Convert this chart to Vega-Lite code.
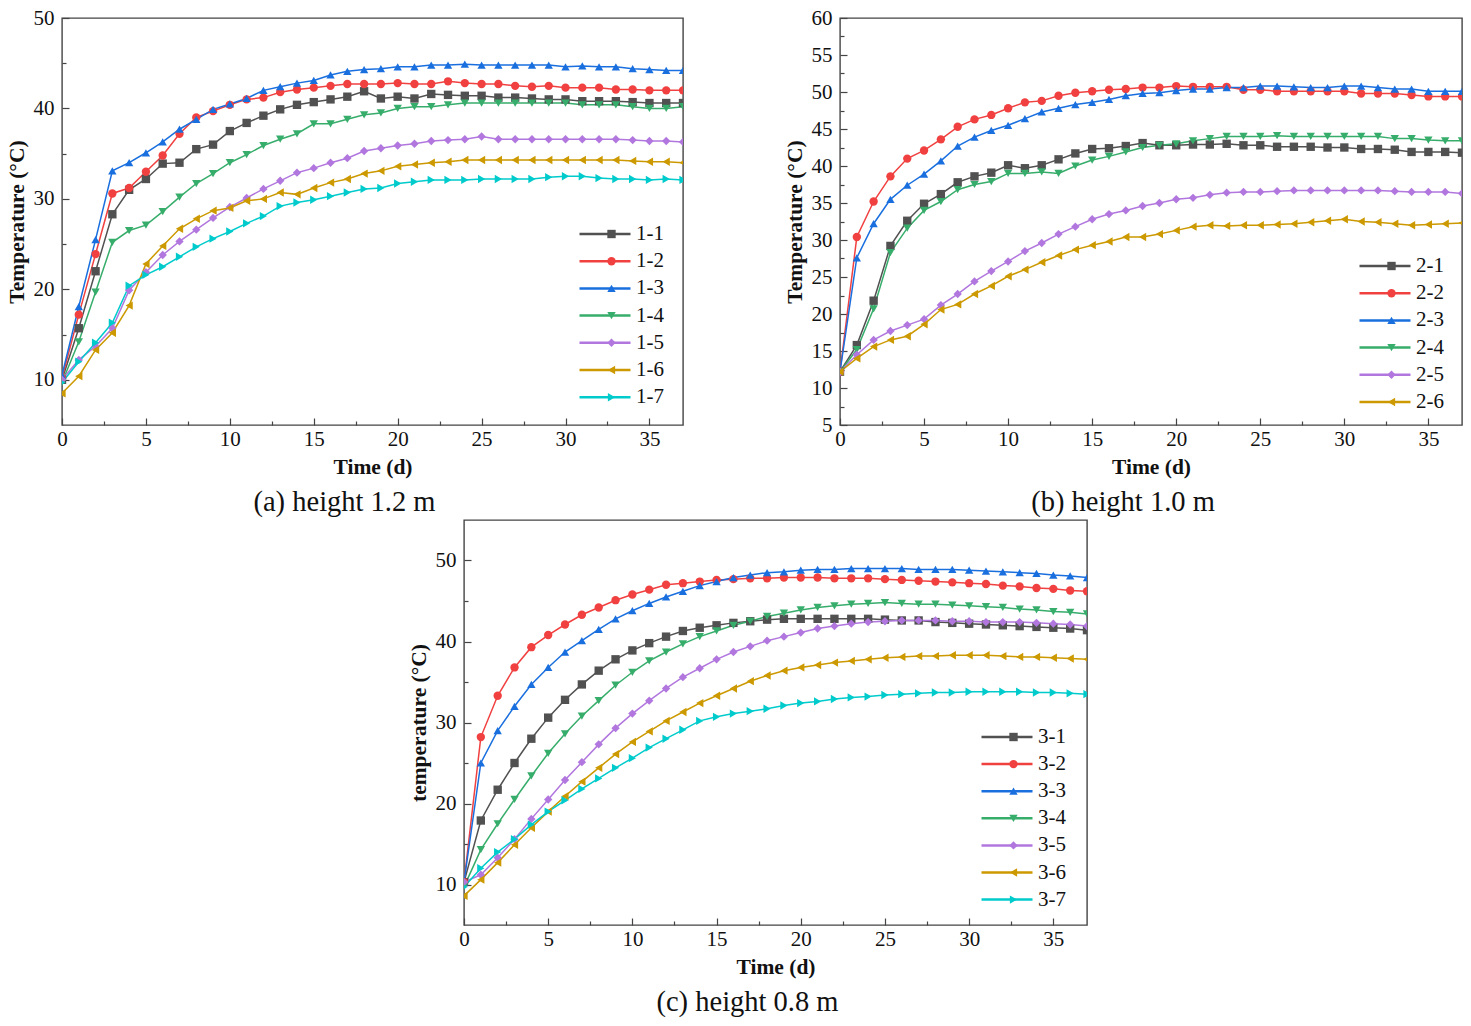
{
  "$schema": "https://vega.github.io/schema/vega-lite/v6.json",
  "background": "white",
  "padding": {"left": 5, "top": 6, "right": 0, "bottom": 0},
  "config": {
    "font": "Liberation Serif",
    "view": {"stroke": "#444444", "strokeWidth": 1.4},
    "axis": {
      "grid": false,
      "domain": false,
      "labelFont": "Liberation Serif",
      "labelFontSize": 21,
      "labelColor": "#111111",
      "labelFlush": false,
      "labelOverlap": false,
      "titleFont": "Liberation Serif",
      "titleFontSize": 21.5,
      "titleFontWeight": "bold",
      "titleColor": "#111111",
      "titlePadding": 5,
      "tickColor": "#444444",
      "tickWidth": 1.2
    },
    "axisX": {"labelPadding": 10, "titlePadding": 7},
    "axisY": {"labelPadding": 15},
    "title": {"font": "Liberation Serif", "fontSize": 28.5, "fontWeight": "normal", "color": "#111111"}
  },
  "datasets": {
    "a": [
      {"s":"1-1","d":0,"t":10.0},{"s":"1-1","d":1,"t":15.7},{"s":"1-1","d":2,"t":22.0},{"s":"1-1","d":3,"t":28.3},{"s":"1-1","d":4,"t":31.0},{"s":"1-1","d":5,"t":32.2},{"s":"1-1","d":6,"t":33.9},{"s":"1-1","d":7,"t":34.0},{"s":"1-1","d":8,"t":35.5},{"s":"1-1","d":9,"t":36.0},{"s":"1-1","d":10,"t":37.5},{"s":"1-1","d":11,"t":38.4},{"s":"1-1","d":12,"t":39.2},{"s":"1-1","d":13,"t":39.9},{"s":"1-1","d":14,"t":40.4},{"s":"1-1","d":15,"t":40.7},{"s":"1-1","d":16,"t":41.0},{"s":"1-1","d":17,"t":41.3},{"s":"1-1","d":18,"t":41.9},{"s":"1-1","d":19,"t":41.1},{"s":"1-1","d":20,"t":41.3},{"s":"1-1","d":21,"t":41.1},{"s":"1-1","d":22,"t":41.6},{"s":"1-1","d":23,"t":41.5},{"s":"1-1","d":24,"t":41.4},{"s":"1-1","d":25,"t":41.4},{"s":"1-1","d":26,"t":41.2},{"s":"1-1","d":27,"t":41.2},{"s":"1-1","d":28,"t":41.1},{"s":"1-1","d":29,"t":41.0},{"s":"1-1","d":30,"t":41.0},{"s":"1-1","d":31,"t":40.8},{"s":"1-1","d":32,"t":40.8},{"s":"1-1","d":33,"t":40.8},{"s":"1-1","d":34,"t":40.7},{"s":"1-1","d":35,"t":40.6},{"s":"1-1","d":36,"t":40.6},{"s":"1-1","d":37,"t":40.6},
      {"s":"1-2","d":0,"t":10.2},{"s":"1-2","d":1,"t":17.2},{"s":"1-2","d":2,"t":23.9},{"s":"1-2","d":3,"t":30.6},{"s":"1-2","d":4,"t":31.2},{"s":"1-2","d":5,"t":33.0},{"s":"1-2","d":6,"t":34.8},{"s":"1-2","d":7,"t":37.2},{"s":"1-2","d":8,"t":39.0},{"s":"1-2","d":9,"t":39.7},{"s":"1-2","d":10,"t":40.4},{"s":"1-2","d":11,"t":41.0},{"s":"1-2","d":12,"t":41.2},{"s":"1-2","d":13,"t":41.8},{"s":"1-2","d":14,"t":42.1},{"s":"1-2","d":15,"t":42.3},{"s":"1-2","d":16,"t":42.5},{"s":"1-2","d":17,"t":42.7},{"s":"1-2","d":18,"t":42.7},{"s":"1-2","d":19,"t":42.7},{"s":"1-2","d":20,"t":42.8},{"s":"1-2","d":21,"t":42.7},{"s":"1-2","d":22,"t":42.7},{"s":"1-2","d":23,"t":43.0},{"s":"1-2","d":24,"t":42.8},{"s":"1-2","d":25,"t":42.7},{"s":"1-2","d":26,"t":42.7},{"s":"1-2","d":27,"t":42.5},{"s":"1-2","d":28,"t":42.4},{"s":"1-2","d":29,"t":42.5},{"s":"1-2","d":30,"t":42.3},{"s":"1-2","d":31,"t":42.3},{"s":"1-2","d":32,"t":42.3},{"s":"1-2","d":33,"t":42.1},{"s":"1-2","d":34,"t":42.1},{"s":"1-2","d":35,"t":42.0},{"s":"1-2","d":36,"t":42.0},{"s":"1-2","d":37,"t":42.0},
      {"s":"1-3","d":0,"t":10.5},{"s":"1-3","d":1,"t":18.1},{"s":"1-3","d":2,"t":25.5},{"s":"1-3","d":3,"t":33.1},{"s":"1-3","d":4,"t":34.0},{"s":"1-3","d":5,"t":35.1},{"s":"1-3","d":6,"t":36.3},{"s":"1-3","d":7,"t":37.7},{"s":"1-3","d":8,"t":38.8},{"s":"1-3","d":9,"t":39.9},{"s":"1-3","d":10,"t":40.5},{"s":"1-3","d":11,"t":41.1},{"s":"1-3","d":12,"t":42.0},{"s":"1-3","d":13,"t":42.4},{"s":"1-3","d":14,"t":42.8},{"s":"1-3","d":15,"t":43.1},{"s":"1-3","d":16,"t":43.7},{"s":"1-3","d":17,"t":44.1},{"s":"1-3","d":18,"t":44.3},{"s":"1-3","d":19,"t":44.4},{"s":"1-3","d":20,"t":44.6},{"s":"1-3","d":21,"t":44.6},{"s":"1-3","d":22,"t":44.8},{"s":"1-3","d":23,"t":44.8},{"s":"1-3","d":24,"t":44.9},{"s":"1-3","d":25,"t":44.8},{"s":"1-3","d":26,"t":44.8},{"s":"1-3","d":27,"t":44.8},{"s":"1-3","d":28,"t":44.8},{"s":"1-3","d":29,"t":44.8},{"s":"1-3","d":30,"t":44.6},{"s":"1-3","d":31,"t":44.7},{"s":"1-3","d":32,"t":44.6},{"s":"1-3","d":33,"t":44.6},{"s":"1-3","d":34,"t":44.4},{"s":"1-3","d":35,"t":44.3},{"s":"1-3","d":36,"t":44.2},{"s":"1-3","d":37,"t":44.2},
      {"s":"1-4","d":0,"t":9.7},{"s":"1-4","d":1,"t":14.2},{"s":"1-4","d":2,"t":19.7},{"s":"1-4","d":3,"t":25.2},{"s":"1-4","d":4,"t":26.5},{"s":"1-4","d":5,"t":27.1},{"s":"1-4","d":6,"t":28.6},{"s":"1-4","d":7,"t":30.2},{"s":"1-4","d":8,"t":31.7},{"s":"1-4","d":9,"t":32.8},{"s":"1-4","d":10,"t":34.0},{"s":"1-4","d":11,"t":34.9},{"s":"1-4","d":12,"t":35.9},{"s":"1-4","d":13,"t":36.6},{"s":"1-4","d":14,"t":37.2},{"s":"1-4","d":15,"t":38.3},{"s":"1-4","d":16,"t":38.3},{"s":"1-4","d":17,"t":38.8},{"s":"1-4","d":18,"t":39.3},{"s":"1-4","d":19,"t":39.5},{"s":"1-4","d":20,"t":40.0},{"s":"1-4","d":21,"t":40.2},{"s":"1-4","d":22,"t":40.2},{"s":"1-4","d":23,"t":40.4},{"s":"1-4","d":24,"t":40.6},{"s":"1-4","d":25,"t":40.6},{"s":"1-4","d":26,"t":40.6},{"s":"1-4","d":27,"t":40.6},{"s":"1-4","d":28,"t":40.6},{"s":"1-4","d":29,"t":40.6},{"s":"1-4","d":30,"t":40.6},{"s":"1-4","d":31,"t":40.4},{"s":"1-4","d":32,"t":40.4},{"s":"1-4","d":33,"t":40.4},{"s":"1-4","d":34,"t":40.2},{"s":"1-4","d":35,"t":40.0},{"s":"1-4","d":36,"t":40.0},{"s":"1-4","d":37,"t":40.2},
      {"s":"1-5","d":0,"t":10.0},{"s":"1-5","d":1,"t":12.2},{"s":"1-5","d":2,"t":13.7},{"s":"1-5","d":3,"t":15.7},{"s":"1-5","d":4,"t":19.9},{"s":"1-5","d":5,"t":21.9},{"s":"1-5","d":6,"t":23.8},{"s":"1-5","d":7,"t":25.3},{"s":"1-5","d":8,"t":26.6},{"s":"1-5","d":9,"t":27.9},{"s":"1-5","d":10,"t":29.1},{"s":"1-5","d":11,"t":30.1},{"s":"1-5","d":12,"t":31.1},{"s":"1-5","d":13,"t":32.0},{"s":"1-5","d":14,"t":32.9},{"s":"1-5","d":15,"t":33.4},{"s":"1-5","d":16,"t":34.0},{"s":"1-5","d":17,"t":34.5},{"s":"1-5","d":18,"t":35.3},{"s":"1-5","d":19,"t":35.6},{"s":"1-5","d":20,"t":35.9},{"s":"1-5","d":21,"t":36.1},{"s":"1-5","d":22,"t":36.4},{"s":"1-5","d":23,"t":36.5},{"s":"1-5","d":24,"t":36.6},{"s":"1-5","d":25,"t":36.9},{"s":"1-5","d":26,"t":36.6},{"s":"1-5","d":27,"t":36.6},{"s":"1-5","d":28,"t":36.6},{"s":"1-5","d":29,"t":36.6},{"s":"1-5","d":30,"t":36.6},{"s":"1-5","d":31,"t":36.6},{"s":"1-5","d":32,"t":36.6},{"s":"1-5","d":33,"t":36.6},{"s":"1-5","d":34,"t":36.5},{"s":"1-5","d":35,"t":36.4},{"s":"1-5","d":36,"t":36.4},{"s":"1-5","d":37,"t":36.3},
      {"s":"1-6","d":0,"t":8.5},{"s":"1-6","d":1,"t":10.4},{"s":"1-6","d":2,"t":13.3},{"s":"1-6","d":3,"t":15.2},{"s":"1-6","d":4,"t":18.2},{"s":"1-6","d":5,"t":22.8},{"s":"1-6","d":6,"t":24.8},{"s":"1-6","d":7,"t":26.7},{"s":"1-6","d":8,"t":27.8},{"s":"1-6","d":9,"t":28.7},{"s":"1-6","d":10,"t":29.0},{"s":"1-6","d":11,"t":29.8},{"s":"1-6","d":12,"t":30.0},{"s":"1-6","d":13,"t":30.7},{"s":"1-6","d":14,"t":30.5},{"s":"1-6","d":15,"t":31.2},{"s":"1-6","d":16,"t":31.8},{"s":"1-6","d":17,"t":32.2},{"s":"1-6","d":18,"t":32.8},{"s":"1-6","d":19,"t":33.1},{"s":"1-6","d":20,"t":33.6},{"s":"1-6","d":21,"t":33.8},{"s":"1-6","d":22,"t":34.0},{"s":"1-6","d":23,"t":34.1},{"s":"1-6","d":24,"t":34.3},{"s":"1-6","d":25,"t":34.3},{"s":"1-6","d":26,"t":34.3},{"s":"1-6","d":27,"t":34.3},{"s":"1-6","d":28,"t":34.3},{"s":"1-6","d":29,"t":34.3},{"s":"1-6","d":30,"t":34.3},{"s":"1-6","d":31,"t":34.3},{"s":"1-6","d":32,"t":34.3},{"s":"1-6","d":33,"t":34.3},{"s":"1-6","d":34,"t":34.2},{"s":"1-6","d":35,"t":34.1},{"s":"1-6","d":36,"t":34.1},{"s":"1-6","d":37,"t":34.0},
      {"s":"1-7","d":0,"t":9.7},{"s":"1-7","d":1,"t":12.0},{"s":"1-7","d":2,"t":14.1},{"s":"1-7","d":3,"t":16.3},{"s":"1-7","d":4,"t":20.4},{"s":"1-7","d":5,"t":21.6},{"s":"1-7","d":6,"t":22.5},{"s":"1-7","d":7,"t":23.6},{"s":"1-7","d":8,"t":24.7},{"s":"1-7","d":9,"t":25.6},{"s":"1-7","d":10,"t":26.4},{"s":"1-7","d":11,"t":27.3},{"s":"1-7","d":12,"t":28.1},{"s":"1-7","d":13,"t":29.2},{"s":"1-7","d":14,"t":29.6},{"s":"1-7","d":15,"t":29.9},{"s":"1-7","d":16,"t":30.3},{"s":"1-7","d":17,"t":30.7},{"s":"1-7","d":18,"t":31.1},{"s":"1-7","d":19,"t":31.2},{"s":"1-7","d":20,"t":31.7},{"s":"1-7","d":21,"t":31.9},{"s":"1-7","d":22,"t":32.1},{"s":"1-7","d":23,"t":32.1},{"s":"1-7","d":24,"t":32.1},{"s":"1-7","d":25,"t":32.2},{"s":"1-7","d":26,"t":32.2},{"s":"1-7","d":27,"t":32.2},{"s":"1-7","d":28,"t":32.2},{"s":"1-7","d":29,"t":32.4},{"s":"1-7","d":30,"t":32.5},{"s":"1-7","d":31,"t":32.5},{"s":"1-7","d":32,"t":32.3},{"s":"1-7","d":33,"t":32.2},{"s":"1-7","d":34,"t":32.2},{"s":"1-7","d":35,"t":32.1},{"s":"1-7","d":36,"t":32.2},{"s":"1-7","d":37,"t":32.1}
    ],
    "b": [
      {"s":"2-1","d":0,"t":12.2},{"s":"2-1","d":1,"t":15.8},{"s":"2-1","d":2,"t":21.8},{"s":"2-1","d":3,"t":29.2},{"s":"2-1","d":4,"t":32.6},{"s":"2-1","d":5,"t":34.9},{"s":"2-1","d":6,"t":36.2},{"s":"2-1","d":7,"t":37.8},{"s":"2-1","d":8,"t":38.6},{"s":"2-1","d":9,"t":39.1},{"s":"2-1","d":10,"t":40.1},{"s":"2-1","d":11,"t":39.7},{"s":"2-1","d":12,"t":40.1},{"s":"2-1","d":13,"t":40.9},{"s":"2-1","d":14,"t":41.7},{"s":"2-1","d":15,"t":42.3},{"s":"2-1","d":16,"t":42.4},{"s":"2-1","d":17,"t":42.7},{"s":"2-1","d":18,"t":43.1},{"s":"2-1","d":19,"t":42.8},{"s":"2-1","d":20,"t":42.8},{"s":"2-1","d":21,"t":42.9},{"s":"2-1","d":22,"t":42.9},{"s":"2-1","d":23,"t":43.0},{"s":"2-1","d":24,"t":42.8},{"s":"2-1","d":25,"t":42.8},{"s":"2-1","d":26,"t":42.6},{"s":"2-1","d":27,"t":42.6},{"s":"2-1","d":28,"t":42.6},{"s":"2-1","d":29,"t":42.5},{"s":"2-1","d":30,"t":42.5},{"s":"2-1","d":31,"t":42.3},{"s":"2-1","d":32,"t":42.3},{"s":"2-1","d":33,"t":42.2},{"s":"2-1","d":34,"t":41.9},{"s":"2-1","d":35,"t":41.9},{"s":"2-1","d":36,"t":41.9},{"s":"2-1","d":37,"t":41.8},
      {"s":"2-2","d":0,"t":12.2},{"s":"2-2","d":1,"t":30.4},{"s":"2-2","d":2,"t":35.2},{"s":"2-2","d":3,"t":38.6},{"s":"2-2","d":4,"t":41.0},{"s":"2-2","d":5,"t":42.1},{"s":"2-2","d":6,"t":43.6},{"s":"2-2","d":7,"t":45.3},{"s":"2-2","d":8,"t":46.3},{"s":"2-2","d":9,"t":46.9},{"s":"2-2","d":10,"t":47.8},{"s":"2-2","d":11,"t":48.6},{"s":"2-2","d":12,"t":48.8},{"s":"2-2","d":13,"t":49.5},{"s":"2-2","d":14,"t":49.9},{"s":"2-2","d":15,"t":50.1},{"s":"2-2","d":16,"t":50.3},{"s":"2-2","d":17,"t":50.4},{"s":"2-2","d":18,"t":50.6},{"s":"2-2","d":19,"t":50.6},{"s":"2-2","d":20,"t":50.8},{"s":"2-2","d":21,"t":50.7},{"s":"2-2","d":22,"t":50.7},{"s":"2-2","d":23,"t":50.7},{"s":"2-2","d":24,"t":50.3},{"s":"2-2","d":25,"t":50.3},{"s":"2-2","d":26,"t":50.1},{"s":"2-2","d":27,"t":50.1},{"s":"2-2","d":28,"t":50.1},{"s":"2-2","d":29,"t":50.1},{"s":"2-2","d":30,"t":50.1},{"s":"2-2","d":31,"t":49.8},{"s":"2-2","d":32,"t":49.8},{"s":"2-2","d":33,"t":49.8},{"s":"2-2","d":34,"t":49.6},{"s":"2-2","d":35,"t":49.4},{"s":"2-2","d":36,"t":49.4},{"s":"2-2","d":37,"t":49.4},
      {"s":"2-3","d":0,"t":12.2},{"s":"2-3","d":1,"t":27.6},{"s":"2-3","d":2,"t":32.2},{"s":"2-3","d":3,"t":35.5},{"s":"2-3","d":4,"t":37.4},{"s":"2-3","d":5,"t":38.9},{"s":"2-3","d":6,"t":40.7},{"s":"2-3","d":7,"t":42.7},{"s":"2-3","d":8,"t":43.9},{"s":"2-3","d":9,"t":44.8},{"s":"2-3","d":10,"t":45.5},{"s":"2-3","d":11,"t":46.4},{"s":"2-3","d":12,"t":47.3},{"s":"2-3","d":13,"t":47.8},{"s":"2-3","d":14,"t":48.3},{"s":"2-3","d":15,"t":48.6},{"s":"2-3","d":16,"t":49.0},{"s":"2-3","d":17,"t":49.5},{"s":"2-3","d":18,"t":49.8},{"s":"2-3","d":19,"t":49.9},{"s":"2-3","d":20,"t":50.2},{"s":"2-3","d":21,"t":50.4},{"s":"2-3","d":22,"t":50.4},{"s":"2-3","d":23,"t":50.6},{"s":"2-3","d":24,"t":50.6},{"s":"2-3","d":25,"t":50.8},{"s":"2-3","d":26,"t":50.8},{"s":"2-3","d":27,"t":50.7},{"s":"2-3","d":28,"t":50.6},{"s":"2-3","d":29,"t":50.6},{"s":"2-3","d":30,"t":50.8},{"s":"2-3","d":31,"t":50.8},{"s":"2-3","d":32,"t":50.6},{"s":"2-3","d":33,"t":50.4},{"s":"2-3","d":34,"t":50.4},{"s":"2-3","d":35,"t":50.1},{"s":"2-3","d":36,"t":50.1},{"s":"2-3","d":37,"t":50.1},
      {"s":"2-4","d":0,"t":12.2},{"s":"2-4","d":1,"t":15.2},{"s":"2-4","d":2,"t":20.7},{"s":"2-4","d":3,"t":28.3},{"s":"2-4","d":4,"t":31.6},{"s":"2-4","d":5,"t":34.0},{"s":"2-4","d":6,"t":35.2},{"s":"2-4","d":7,"t":36.8},{"s":"2-4","d":8,"t":37.5},{"s":"2-4","d":9,"t":37.9},{"s":"2-4","d":10,"t":39.0},{"s":"2-4","d":11,"t":39.0},{"s":"2-4","d":12,"t":39.2},{"s":"2-4","d":13,"t":39.0},{"s":"2-4","d":14,"t":40.0},{"s":"2-4","d":15,"t":40.8},{"s":"2-4","d":16,"t":41.3},{"s":"2-4","d":17,"t":41.9},{"s":"2-4","d":18,"t":42.5},{"s":"2-4","d":19,"t":42.8},{"s":"2-4","d":20,"t":43.0},{"s":"2-4","d":21,"t":43.4},{"s":"2-4","d":22,"t":43.7},{"s":"2-4","d":23,"t":44.0},{"s":"2-4","d":24,"t":44.0},{"s":"2-4","d":25,"t":44.0},{"s":"2-4","d":26,"t":44.1},{"s":"2-4","d":27,"t":44.0},{"s":"2-4","d":28,"t":44.0},{"s":"2-4","d":29,"t":44.0},{"s":"2-4","d":30,"t":44.0},{"s":"2-4","d":31,"t":44.0},{"s":"2-4","d":32,"t":44.0},{"s":"2-4","d":33,"t":43.7},{"s":"2-4","d":34,"t":43.7},{"s":"2-4","d":35,"t":43.5},{"s":"2-4","d":36,"t":43.4},{"s":"2-4","d":37,"t":43.4},
      {"s":"2-5","d":0,"t":12.2},{"s":"2-5","d":1,"t":14.5},{"s":"2-5","d":2,"t":16.5},{"s":"2-5","d":3,"t":17.7},{"s":"2-5","d":4,"t":18.5},{"s":"2-5","d":5,"t":19.3},{"s":"2-5","d":6,"t":21.2},{"s":"2-5","d":7,"t":22.7},{"s":"2-5","d":8,"t":24.4},{"s":"2-5","d":9,"t":25.8},{"s":"2-5","d":10,"t":27.1},{"s":"2-5","d":11,"t":28.5},{"s":"2-5","d":12,"t":29.6},{"s":"2-5","d":13,"t":30.8},{"s":"2-5","d":14,"t":31.8},{"s":"2-5","d":15,"t":32.8},{"s":"2-5","d":16,"t":33.5},{"s":"2-5","d":17,"t":34.0},{"s":"2-5","d":18,"t":34.6},{"s":"2-5","d":19,"t":35.0},{"s":"2-5","d":20,"t":35.5},{"s":"2-5","d":21,"t":35.7},{"s":"2-5","d":22,"t":36.1},{"s":"2-5","d":23,"t":36.4},{"s":"2-5","d":24,"t":36.5},{"s":"2-5","d":25,"t":36.5},{"s":"2-5","d":26,"t":36.6},{"s":"2-5","d":27,"t":36.7},{"s":"2-5","d":28,"t":36.7},{"s":"2-5","d":29,"t":36.7},{"s":"2-5","d":30,"t":36.7},{"s":"2-5","d":31,"t":36.7},{"s":"2-5","d":32,"t":36.7},{"s":"2-5","d":33,"t":36.6},{"s":"2-5","d":34,"t":36.5},{"s":"2-5","d":35,"t":36.5},{"s":"2-5","d":36,"t":36.5},{"s":"2-5","d":37,"t":36.3},
      {"s":"2-6","d":0,"t":12.2},{"s":"2-6","d":1,"t":14.0},{"s":"2-6","d":2,"t":15.6},{"s":"2-6","d":3,"t":16.5},{"s":"2-6","d":4,"t":17.0},{"s":"2-6","d":5,"t":18.6},{"s":"2-6","d":6,"t":20.6},{"s":"2-6","d":7,"t":21.3},{"s":"2-6","d":8,"t":22.7},{"s":"2-6","d":9,"t":23.8},{"s":"2-6","d":10,"t":25.1},{"s":"2-6","d":11,"t":26.0},{"s":"2-6","d":12,"t":27.0},{"s":"2-6","d":13,"t":27.9},{"s":"2-6","d":14,"t":28.7},{"s":"2-6","d":15,"t":29.3},{"s":"2-6","d":16,"t":29.8},{"s":"2-6","d":17,"t":30.4},{"s":"2-6","d":18,"t":30.4},{"s":"2-6","d":19,"t":30.8},{"s":"2-6","d":20,"t":31.3},{"s":"2-6","d":21,"t":31.8},{"s":"2-6","d":22,"t":32.0},{"s":"2-6","d":23,"t":31.9},{"s":"2-6","d":24,"t":32.0},{"s":"2-6","d":25,"t":32.0},{"s":"2-6","d":26,"t":32.1},{"s":"2-6","d":27,"t":32.2},{"s":"2-6","d":28,"t":32.4},{"s":"2-6","d":29,"t":32.6},{"s":"2-6","d":30,"t":32.8},{"s":"2-6","d":31,"t":32.5},{"s":"2-6","d":32,"t":32.4},{"s":"2-6","d":33,"t":32.2},{"s":"2-6","d":34,"t":32.0},{"s":"2-6","d":35,"t":32.1},{"s":"2-6","d":36,"t":32.2},{"s":"2-6","d":37,"t":32.3}
    ],
    "c": [
      {"s":"3-1","d":0,"t":10.3},{"s":"3-1","d":1,"t":17.9},{"s":"3-1","d":2,"t":21.7},{"s":"3-1","d":3,"t":25.0},{"s":"3-1","d":4,"t":28.0},{"s":"3-1","d":5,"t":30.6},{"s":"3-1","d":6,"t":32.8},{"s":"3-1","d":7,"t":34.7},{"s":"3-1","d":8,"t":36.4},{"s":"3-1","d":9,"t":37.8},{"s":"3-1","d":10,"t":38.9},{"s":"3-1","d":11,"t":39.8},{"s":"3-1","d":12,"t":40.6},{"s":"3-1","d":13,"t":41.3},{"s":"3-1","d":14,"t":41.7},{"s":"3-1","d":15,"t":42.0},{"s":"3-1","d":16,"t":42.3},{"s":"3-1","d":17,"t":42.5},{"s":"3-1","d":18,"t":42.7},{"s":"3-1","d":19,"t":42.8},{"s":"3-1","d":20,"t":42.8},{"s":"3-1","d":21,"t":42.8},{"s":"3-1","d":22,"t":42.8},{"s":"3-1","d":23,"t":42.8},{"s":"3-1","d":24,"t":42.8},{"s":"3-1","d":25,"t":42.7},{"s":"3-1","d":26,"t":42.6},{"s":"3-1","d":27,"t":42.6},{"s":"3-1","d":28,"t":42.4},{"s":"3-1","d":29,"t":42.3},{"s":"3-1","d":30,"t":42.2},{"s":"3-1","d":31,"t":42.1},{"s":"3-1","d":32,"t":42.0},{"s":"3-1","d":33,"t":41.9},{"s":"3-1","d":34,"t":41.8},{"s":"3-1","d":35,"t":41.7},{"s":"3-1","d":36,"t":41.6},{"s":"3-1","d":37,"t":41.4},
      {"s":"3-2","d":0,"t":10.3},{"s":"3-2","d":1,"t":28.2},{"s":"3-2","d":2,"t":33.3},{"s":"3-2","d":3,"t":36.8},{"s":"3-2","d":4,"t":39.3},{"s":"3-2","d":5,"t":40.8},{"s":"3-2","d":6,"t":42.1},{"s":"3-2","d":7,"t":43.3},{"s":"3-2","d":8,"t":44.2},{"s":"3-2","d":9,"t":45.1},{"s":"3-2","d":10,"t":45.8},{"s":"3-2","d":11,"t":46.4},{"s":"3-2","d":12,"t":47.0},{"s":"3-2","d":13,"t":47.2},{"s":"3-2","d":14,"t":47.4},{"s":"3-2","d":15,"t":47.6},{"s":"3-2","d":16,"t":47.7},{"s":"3-2","d":17,"t":47.8},{"s":"3-2","d":18,"t":47.8},{"s":"3-2","d":19,"t":47.9},{"s":"3-2","d":20,"t":47.9},{"s":"3-2","d":21,"t":47.9},{"s":"3-2","d":22,"t":47.8},{"s":"3-2","d":23,"t":47.8},{"s":"3-2","d":24,"t":47.8},{"s":"3-2","d":25,"t":47.7},{"s":"3-2","d":26,"t":47.6},{"s":"3-2","d":27,"t":47.5},{"s":"3-2","d":28,"t":47.4},{"s":"3-2","d":29,"t":47.3},{"s":"3-2","d":30,"t":47.2},{"s":"3-2","d":31,"t":47.1},{"s":"3-2","d":32,"t":46.9},{"s":"3-2","d":33,"t":46.8},{"s":"3-2","d":34,"t":46.6},{"s":"3-2","d":35,"t":46.5},{"s":"3-2","d":36,"t":46.3},{"s":"3-2","d":37,"t":46.2},
      {"s":"3-3","d":0,"t":10.3},{"s":"3-3","d":1,"t":25.0},{"s":"3-3","d":2,"t":29.0},{"s":"3-3","d":3,"t":32.0},{"s":"3-3","d":4,"t":34.7},{"s":"3-3","d":5,"t":36.8},{"s":"3-3","d":6,"t":38.7},{"s":"3-3","d":7,"t":40.1},{"s":"3-3","d":8,"t":41.5},{"s":"3-3","d":9,"t":42.8},{"s":"3-3","d":10,"t":43.8},{"s":"3-3","d":11,"t":44.7},{"s":"3-3","d":12,"t":45.5},{"s":"3-3","d":13,"t":46.2},{"s":"3-3","d":14,"t":46.9},{"s":"3-3","d":15,"t":47.4},{"s":"3-3","d":16,"t":47.9},{"s":"3-3","d":17,"t":48.2},{"s":"3-3","d":18,"t":48.5},{"s":"3-3","d":19,"t":48.6},{"s":"3-3","d":20,"t":48.8},{"s":"3-3","d":21,"t":48.9},{"s":"3-3","d":22,"t":48.9},{"s":"3-3","d":23,"t":49.0},{"s":"3-3","d":24,"t":49.0},{"s":"3-3","d":25,"t":49.0},{"s":"3-3","d":26,"t":49.0},{"s":"3-3","d":27,"t":48.9},{"s":"3-3","d":28,"t":48.9},{"s":"3-3","d":29,"t":48.9},{"s":"3-3","d":30,"t":48.8},{"s":"3-3","d":31,"t":48.7},{"s":"3-3","d":32,"t":48.6},{"s":"3-3","d":33,"t":48.5},{"s":"3-3","d":34,"t":48.4},{"s":"3-3","d":35,"t":48.2},{"s":"3-3","d":36,"t":48.1},{"s":"3-3","d":37,"t":47.9},
      {"s":"3-4","d":0,"t":9.7},{"s":"3-4","d":1,"t":14.3},{"s":"3-4","d":2,"t":17.5},{"s":"3-4","d":3,"t":20.5},{"s":"3-4","d":4,"t":23.4},{"s":"3-4","d":5,"t":26.2},{"s":"3-4","d":6,"t":28.6},{"s":"3-4","d":7,"t":30.8},{"s":"3-4","d":8,"t":32.7},{"s":"3-4","d":9,"t":34.6},{"s":"3-4","d":10,"t":36.2},{"s":"3-4","d":11,"t":37.6},{"s":"3-4","d":12,"t":38.7},{"s":"3-4","d":13,"t":39.7},{"s":"3-4","d":14,"t":40.6},{"s":"3-4","d":15,"t":41.3},{"s":"3-4","d":16,"t":42.0},{"s":"3-4","d":17,"t":42.5},{"s":"3-4","d":18,"t":43.1},{"s":"3-4","d":19,"t":43.5},{"s":"3-4","d":20,"t":43.9},{"s":"3-4","d":21,"t":44.2},{"s":"3-4","d":22,"t":44.4},{"s":"3-4","d":23,"t":44.6},{"s":"3-4","d":24,"t":44.7},{"s":"3-4","d":25,"t":44.8},{"s":"3-4","d":26,"t":44.7},{"s":"3-4","d":27,"t":44.6},{"s":"3-4","d":28,"t":44.6},{"s":"3-4","d":29,"t":44.5},{"s":"3-4","d":30,"t":44.4},{"s":"3-4","d":31,"t":44.3},{"s":"3-4","d":32,"t":44.2},{"s":"3-4","d":33,"t":44.0},{"s":"3-4","d":34,"t":43.9},{"s":"3-4","d":35,"t":43.7},{"s":"3-4","d":36,"t":43.6},{"s":"3-4","d":37,"t":43.4},
      {"s":"3-5","d":0,"t":10.3},{"s":"3-5","d":1,"t":11.2},{"s":"3-5","d":2,"t":13.3},{"s":"3-5","d":3,"t":15.6},{"s":"3-5","d":4,"t":18.1},{"s":"3-5","d":5,"t":20.5},{"s":"3-5","d":6,"t":22.9},{"s":"3-5","d":7,"t":25.1},{"s":"3-5","d":8,"t":27.3},{"s":"3-5","d":9,"t":29.3},{"s":"3-5","d":10,"t":31.1},{"s":"3-5","d":11,"t":32.7},{"s":"3-5","d":12,"t":34.2},{"s":"3-5","d":13,"t":35.6},{"s":"3-5","d":14,"t":36.7},{"s":"3-5","d":15,"t":37.8},{"s":"3-5","d":16,"t":38.7},{"s":"3-5","d":17,"t":39.4},{"s":"3-5","d":18,"t":40.1},{"s":"3-5","d":19,"t":40.6},{"s":"3-5","d":20,"t":41.1},{"s":"3-5","d":21,"t":41.6},{"s":"3-5","d":22,"t":41.9},{"s":"3-5","d":23,"t":42.2},{"s":"3-5","d":24,"t":42.4},{"s":"3-5","d":25,"t":42.5},{"s":"3-5","d":26,"t":42.6},{"s":"3-5","d":27,"t":42.6},{"s":"3-5","d":28,"t":42.6},{"s":"3-5","d":29,"t":42.5},{"s":"3-5","d":30,"t":42.5},{"s":"3-5","d":31,"t":42.4},{"s":"3-5","d":32,"t":42.4},{"s":"3-5","d":33,"t":42.4},{"s":"3-5","d":34,"t":42.3},{"s":"3-5","d":35,"t":42.2},{"s":"3-5","d":36,"t":42.1},{"s":"3-5","d":37,"t":41.9},
      {"s":"3-6","d":0,"t":8.6},{"s":"3-6","d":1,"t":10.6},{"s":"3-6","d":2,"t":12.7},{"s":"3-6","d":3,"t":14.9},{"s":"3-6","d":4,"t":17.0},{"s":"3-6","d":5,"t":19.0},{"s":"3-6","d":6,"t":20.9},{"s":"3-6","d":7,"t":22.7},{"s":"3-6","d":8,"t":24.4},{"s":"3-6","d":9,"t":26.1},{"s":"3-6","d":10,"t":27.6},{"s":"3-6","d":11,"t":28.9},{"s":"3-6","d":12,"t":30.2},{"s":"3-6","d":13,"t":31.3},{"s":"3-6","d":14,"t":32.4},{"s":"3-6","d":15,"t":33.3},{"s":"3-6","d":16,"t":34.2},{"s":"3-6","d":17,"t":35.1},{"s":"3-6","d":18,"t":35.8},{"s":"3-6","d":19,"t":36.4},{"s":"3-6","d":20,"t":36.8},{"s":"3-6","d":21,"t":37.1},{"s":"3-6","d":22,"t":37.4},{"s":"3-6","d":23,"t":37.6},{"s":"3-6","d":24,"t":37.8},{"s":"3-6","d":25,"t":38.0},{"s":"3-6","d":26,"t":38.1},{"s":"3-6","d":27,"t":38.2},{"s":"3-6","d":28,"t":38.2},{"s":"3-6","d":29,"t":38.3},{"s":"3-6","d":30,"t":38.3},{"s":"3-6","d":31,"t":38.3},{"s":"3-6","d":32,"t":38.2},{"s":"3-6","d":33,"t":38.1},{"s":"3-6","d":34,"t":38.1},{"s":"3-6","d":35,"t":38.0},{"s":"3-6","d":36,"t":37.9},{"s":"3-6","d":37,"t":37.8},
      {"s":"3-7","d":0,"t":9.7},{"s":"3-7","d":1,"t":12.0},{"s":"3-7","d":2,"t":14.0},{"s":"3-7","d":3,"t":15.6},{"s":"3-7","d":4,"t":17.4},{"s":"3-7","d":5,"t":19.0},{"s":"3-7","d":6,"t":20.4},{"s":"3-7","d":7,"t":21.8},{"s":"3-7","d":8,"t":23.1},{"s":"3-7","d":9,"t":24.4},{"s":"3-7","d":10,"t":25.6},{"s":"3-7","d":11,"t":26.9},{"s":"3-7","d":12,"t":28.0},{"s":"3-7","d":13,"t":29.1},{"s":"3-7","d":14,"t":30.2},{"s":"3-7","d":15,"t":30.7},{"s":"3-7","d":16,"t":31.1},{"s":"3-7","d":17,"t":31.4},{"s":"3-7","d":18,"t":31.7},{"s":"3-7","d":19,"t":32.1},{"s":"3-7","d":20,"t":32.4},{"s":"3-7","d":21,"t":32.6},{"s":"3-7","d":22,"t":32.9},{"s":"3-7","d":23,"t":33.1},{"s":"3-7","d":24,"t":33.2},{"s":"3-7","d":25,"t":33.4},{"s":"3-7","d":26,"t":33.5},{"s":"3-7","d":27,"t":33.6},{"s":"3-7","d":28,"t":33.7},{"s":"3-7","d":29,"t":33.7},{"s":"3-7","d":30,"t":33.8},{"s":"3-7","d":31,"t":33.8},{"s":"3-7","d":32,"t":33.8},{"s":"3-7","d":33,"t":33.8},{"s":"3-7","d":34,"t":33.7},{"s":"3-7","d":35,"t":33.7},{"s":"3-7","d":36,"t":33.6},{"s":"3-7","d":37,"t":33.5}
    ]
  },
  "spacing": 2,
  "resolve": {"scale": {"stroke": "independent", "fill": "independent", "shape": "independent"}},
  "vconcat": [
    {
      "spacing": 99,
      "resolve": {"scale": {"stroke": "independent", "fill": "independent", "shape": "independent"}},
      "hconcat": [
        {
          "width": 621,
          "height": 407,
          "data": {"name": "a"},
          "title": {"text": "(a) height 1.2 m", "orient": "bottom", "anchor": "middle", "frame": "bounds", "offset": 10},
          "resolve": {"axis": {"x": "independent", "y": "independent"}},
          "layer": [
            {
              "mark": {"type": "line", "strokeWidth": 1.5, "clip": true},
              "encoding": {
                "x": {"field": "d", "type": "quantitative", "scale": {"domain": [0, 37], "nice": false, "zero": false},
                  "axis": {"orient": "bottom", "title": "Time (d)", "values": [0, 5, 10, 15, 20, 25, 30, 35], "tickSize": -7}},
                "y": {"field": "t", "type": "quantitative", "scale": {"domain": [5, 50], "nice": false, "zero": false},
                  "axis": {"orient": "left", "title": "Temperature (°C)", "values": [10, 20, 30, 40, 50], "tickSize": -7}},
                "stroke": {"field": "s", "type": "nominal",
                  "scale": {"domain": ["1-1", "1-2", "1-3", "1-4", "1-5", "1-6", "1-7"], "range": ["#515151", "#F14040", "#1A6FDF", "#37AD6B", "#B177DE", "#CC9900", "#00CBCC"]},
                  "legend": {"orient": "none", "legendX": 516, "legendY": 206, "title": null, "symbolType": "stroke", "symbolSize": 2601, "symbolStrokeWidth": 2.5, "clipHeight": 20, "rowPadding": 6.2, "labelFontSize": 21, "labelFont": "Liberation Serif", "labelColor": "#111111", "labelOffset": 4, "padding": 0}}
              }
            },
            {
              "mark": {"type": "point", "filled": true, "size": 70, "opacity": 1, "strokeWidth": 0, "clip": true},
              "encoding": {
                "x": {"field": "d", "type": "quantitative",
                  "axis": {"orient": "bottom", "title": null, "labels": false, "values": [2.5, 7.5, 12.5, 17.5, 22.5, 27.5, 32.5], "tickSize": -4}},
                "y": {"field": "t", "type": "quantitative",
                  "axis": {"orient": "left", "title": null, "labels": false, "values": [15, 25, 35, 45], "tickSize": -4}},
                "fill": {"field": "s", "type": "nominal",
                  "scale": {"range": ["#515151", "#F14040", "#1A6FDF", "#37AD6B", "#B177DE", "#CC9900", "#00CBCC"]},
                  "legend": {"orient": "none", "legendX": 539, "legendY": 206, "title": null, "symbolSize": 70, "symbolStrokeWidth": 0, "clipHeight": 20, "rowPadding": 6.2, "labelFontSize": 21, "labelExpr": "''", "padding": 0}},
                "shape": {"field": "s", "type": "nominal",
                  "scale": {"range": ["square", "circle", "triangle-up", "triangle-down", "diamond", "triangle-left", "triangle-right"]},
                  "legend": {"orient": "none", "legendX": 539, "legendY": 206, "title": null, "symbolSize": 70, "symbolStrokeWidth": 0, "clipHeight": 20, "rowPadding": 6.2, "labelFontSize": 21, "labelExpr": "''", "padding": 0}}
              }
            }
          ]
        },
        {
          "width": 622,
          "height": 407,
          "data": {"name": "b"},
          "title": {"text": "(b) height 1.0 m", "orient": "bottom", "anchor": "middle", "frame": "bounds", "offset": 10},
          "resolve": {"axis": {"x": "independent", "y": "independent"}},
          "layer": [
            {
              "mark": {"type": "line", "strokeWidth": 1.5, "clip": true},
              "encoding": {
                "x": {"field": "d", "type": "quantitative", "scale": {"domain": [0, 37], "nice": false, "zero": false},
                  "axis": {"orient": "bottom", "title": "Time (d)", "values": [0, 5, 10, 15, 20, 25, 30, 35], "tickSize": -7}},
                "y": {"field": "t", "type": "quantitative", "scale": {"domain": [5, 60], "nice": false, "zero": false},
                  "axis": {"orient": "left", "title": "Temperature (°C)", "values": [5, 10, 15, 20, 25, 30, 35, 40, 45, 50, 55, 60], "tickSize": -7}},
                "stroke": {"field": "s", "type": "nominal",
                  "scale": {"domain": ["2-1", "2-2", "2-3", "2-4", "2-5", "2-6"], "range": ["#515151", "#F14040", "#1A6FDF", "#37AD6B", "#B177DE", "#CC9900"]},
                  "legend": {"orient": "none", "legendX": 518, "legendY": 238, "title": null, "symbolType": "stroke", "symbolSize": 2601, "symbolStrokeWidth": 2.5, "clipHeight": 20, "rowPadding": 6.2, "labelFontSize": 21, "labelFont": "Liberation Serif", "labelColor": "#111111", "labelOffset": 4, "padding": 0}}
              }
            },
            {
              "mark": {"type": "point", "filled": true, "size": 70, "opacity": 1, "strokeWidth": 0, "clip": true},
              "encoding": {
                "x": {"field": "d", "type": "quantitative",
                  "axis": {"orient": "bottom", "title": null, "labels": false, "values": [2.5, 7.5, 12.5, 17.5, 22.5, 27.5, 32.5], "tickSize": -4}},
                "y": {"field": "t", "type": "quantitative",
                  "axis": {"orient": "left", "title": null, "labels": false, "values": [7.5, 12.5, 17.5, 22.5, 27.5, 32.5, 37.5, 42.5, 47.5, 52.5, 57.5], "tickSize": -4}},
                "fill": {"field": "s", "type": "nominal",
                  "scale": {"range": ["#515151", "#F14040", "#1A6FDF", "#37AD6B", "#B177DE", "#CC9900"]},
                  "legend": {"orient": "none", "legendX": 541, "legendY": 238, "title": null, "symbolSize": 70, "symbolStrokeWidth": 0, "clipHeight": 20, "rowPadding": 6.2, "labelFontSize": 21, "labelExpr": "''", "padding": 0}},
                "shape": {"field": "s", "type": "nominal",
                  "scale": {"range": ["square", "circle", "triangle-up", "triangle-down", "diamond", "triangle-left"]},
                  "legend": {"orient": "none", "legendX": 541, "legendY": 238, "title": null, "symbolSize": 70, "symbolStrokeWidth": 0, "clipHeight": 20, "rowPadding": 6.2, "labelFontSize": 21, "labelExpr": "''", "padding": 0}}
              }
            }
          ]
        }
      ]
    },
    {
      "spacing": 20,
      "resolve": {"scale": {"stroke": "independent", "fill": "independent", "shape": "independent"}},
      "hconcat": [
        {
          "width": 325,
          "height": 10,
          "data": {"values": []},
          "mark": "point",
          "view": {"stroke": null}
        },
        {
          "width": 623,
          "height": 405,
          "data": {"name": "c"},
          "title": {"text": "(c) height 0.8 m", "orient": "bottom", "anchor": "middle", "frame": "bounds", "offset": 10},
          "resolve": {"axis": {"x": "independent", "y": "independent"}},
          "layer": [
            {
              "mark": {"type": "line", "strokeWidth": 1.5, "clip": true},
              "encoding": {
                "x": {"field": "d", "type": "quantitative", "scale": {"domain": [0, 37], "nice": false, "zero": false},
                  "axis": {"orient": "bottom", "title": "Time (d)", "values": [0, 5, 10, 15, 20, 25, 30, 35], "tickSize": -7}},
                "y": {"field": "t", "type": "quantitative", "scale": {"domain": [5, 55], "nice": false, "zero": false},
                  "axis": {"orient": "left", "title": "temperature (°C)", "values": [10, 20, 30, 40, 50], "tickSize": -7}},
                "stroke": {"field": "s", "type": "nominal",
                  "scale": {"domain": ["3-1", "3-2", "3-3", "3-4", "3-5", "3-6", "3-7"], "range": ["#515151", "#F14040", "#1A6FDF", "#37AD6B", "#B177DE", "#CC9900", "#00CBCC"]},
                  "legend": {"orient": "none", "legendX": 516, "legendY": 207, "title": null, "symbolType": "stroke", "symbolSize": 2601, "symbolStrokeWidth": 2.5, "clipHeight": 20, "rowPadding": 6.1, "labelFontSize": 21, "labelFont": "Liberation Serif", "labelColor": "#111111", "labelOffset": 4, "padding": 0}}
              }
            },
            {
              "mark": {"type": "point", "filled": true, "size": 70, "opacity": 1, "strokeWidth": 0, "clip": true},
              "encoding": {
                "x": {"field": "d", "type": "quantitative",
                  "axis": {"orient": "bottom", "title": null, "labels": false, "values": [2.5, 7.5, 12.5, 17.5, 22.5, 27.5, 32.5], "tickSize": -4}},
                "y": {"field": "t", "type": "quantitative",
                  "axis": {"orient": "left", "title": null, "labels": false, "values": [15, 25, 35, 45], "tickSize": -4}},
                "fill": {"field": "s", "type": "nominal",
                  "scale": {"range": ["#515151", "#F14040", "#1A6FDF", "#37AD6B", "#B177DE", "#CC9900", "#00CBCC"]},
                  "legend": {"orient": "none", "legendX": 539, "legendY": 207, "title": null, "symbolSize": 70, "symbolStrokeWidth": 0, "clipHeight": 20, "rowPadding": 6.1, "labelFontSize": 21, "labelExpr": "''", "padding": 0}},
                "shape": {"field": "s", "type": "nominal",
                  "scale": {"range": ["square", "circle", "triangle-up", "triangle-down", "diamond", "triangle-left", "triangle-right"]},
                  "legend": {"orient": "none", "legendX": 539, "legendY": 207, "title": null, "symbolSize": 70, "symbolStrokeWidth": 0, "clipHeight": 20, "rowPadding": 6.1, "labelFontSize": 21, "labelExpr": "''", "padding": 0}}
              }
            }
          ]
        }
      ]
    }
  ]
}
